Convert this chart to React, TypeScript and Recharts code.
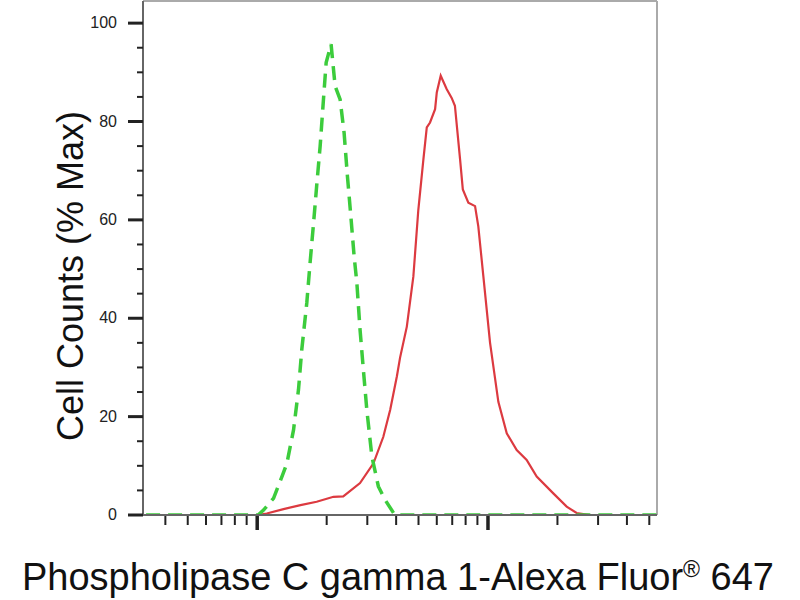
import React from 'react';
import { LineChart, Line, XAxis, YAxis, ReferenceLine } from 'recharts';

// fluorescence intensity (log axis) and % max
const redX = [33, 57, 100, 110, 130, 154, 181, 214, 236, 279, 319, 352, 377, 403, 416, 445, 475, 499, 525, 543, 561, 590, 600, 624, 662, 696, 719, 757, 778, 822, 879, 908, 955, 1021, 1109, 1206, 1332, 1471, 1626, 1919, 2193, 2422, 2766, 5400];
const redY = [0, 0, 0, 0.3, 1.2, 2.0, 2.7, 3.7, 3.8, 6.5, 10.5, 15.9, 21.4, 28.2, 32, 38.3, 48.5, 62, 72.3, 78.8, 79.8, 82.5, 85.9, 89.3, 86.6, 84.8, 83.2, 72.3, 66.2, 63.5, 62.8, 58.7, 48.5, 35, 23, 16.6, 13.2, 11.2, 7.8, 4.4, 1.7, 0.4, 0, 0];

const greenX = [33, 101, 106.5, 117.7, 128, 134.5, 143.7, 151, 156, 164, 169.5, 175, 181, 187.4, 193.7, 199, 209, 217.6, 228.7, 238, 246, 254.5, 263, 270.3, 279, 288.5, 298.5, 314, 335, 358, 395, 5400];
const greenY = [0, 0, 1, 3.4, 7.8, 10.5, 17.3, 25.5, 33.6, 43.1, 51.3, 58.7, 66.9, 75, 84.5, 92, 95.7, 87.2, 84.5, 77.7, 68.9, 60.8, 52.6, 47.2, 37.7, 29.5, 21.4, 11.9, 5.8, 3.1, 0, 0];

const xTicks = [40, 50, 60, 70, 80, 90, 100, 200, 300, 400, 500, 600, 700, 800, 900, 1000, 2000, 3000, 4000, 5000];
const yTicks = [0, 5, 10, 15, 20, 25, 30, 35, 40, 45, 50, 55, 60, 65, 70, 75, 80, 85, 90, 95, 100];

const redData = redX.map((x, i) => ({ x, y: redY[i] }));
const greenData = greenX.map((x, i) => ({ x, y: greenY[i] }));

const font = 'Liberation Sans, Arial, sans-serif';

const XTick = (props: any) => {
  const { x, y, payload } = props;
  const major = Math.abs(Math.log10(payload.value) % 1) < 1e-9;
  return (
    <line x1={x} x2={x} y1={y + 1} y2={y + (major ? 15 : 10)} stroke="#222" strokeWidth={major ? 3.5 : 2} />
  );
};

const YTick = (props: any) => {
  const { x, y, payload } = props;
  const major = payload.value % 20 === 0;
  return (
    <g>
      <line x1={x - (major ? 15 : 6)} x2={x} y1={y} y2={y} stroke="#222" strokeWidth={major ? 3 : 2} />
      {major && (
        <text x={x - 26} y={y} dy={5} textAnchor="end" fontSize={16} fontFamily={font} fill="#222">
          {payload.value}
        </text>
      )}
    </g>
  );
};

export default function App() {
  return (
    <div style={{ position: 'absolute', left: 0, top: 0, width: 800, height: 600, background: '#fff' }}>
      <LineChart width={800} height={600} margin={{ top: 1, right: 143, bottom: 55, left: 83 }}>
        <XAxis
          dataKey="x"
          type="number"
          scale="log"
          domain={[32, 5400]}
          allowDataOverflow
          ticks={xTicks}
          tick={<XTick />}
          tickLine={false}
          tickSize={0}
          tickMargin={0}
          height={30}
          interval={0}
          axisLine={{ stroke: '#666', strokeWidth: 2 }}
        />
        <YAxis
          dataKey="y"
          type="number"
          domain={[0, 104.5]}
          allowDataOverflow
          ticks={yTicks}
          tick={<YTick />}
          tickLine={false}
          tickSize={0}
          tickMargin={0}
          width={60}
          interval={0}
          axisLine={{ stroke: '#666', strokeWidth: 2 }}
        />
        <ReferenceLine y={104.5} stroke="#aaa" strokeWidth={2} />
        <ReferenceLine x={5400} stroke="#aaa" strokeWidth={2} />
        <Line
          data={redData}
          dataKey="y"
          type="linear"
          stroke="#dc3a40"
          strokeWidth={2.2}
          dot={false}
          isAnimationActive={false}
        />
        <Line
          data={greenData}
          dataKey="y"
          type="linear"
          stroke="#3ccc3c"
          strokeWidth={3.5}
          strokeDasharray="14 8"
          dot={false}
          isAnimationActive={false}
        />
      </LineChart>
      <svg width={800} height={600} style={{ position: 'absolute', left: 0, top: 0, pointerEvents: 'none' }}>
        <text transform="translate(83, 276) rotate(-90)" textAnchor="middle" fontSize={36} fontFamily={font} fill="#111">
          Cell Counts (% Max)
        </text>
        <text x={398} y={590} textAnchor="middle" fontSize={38} fontFamily={font} fill="#111">
          Phospholipase C gamma 1-Alexa Fluor
          <tspan fontSize={23} dy={-13}>®</tspan>
          <tspan dy={13}> 647</tspan>
        </text>
      </svg>
    </div>
  );
}
